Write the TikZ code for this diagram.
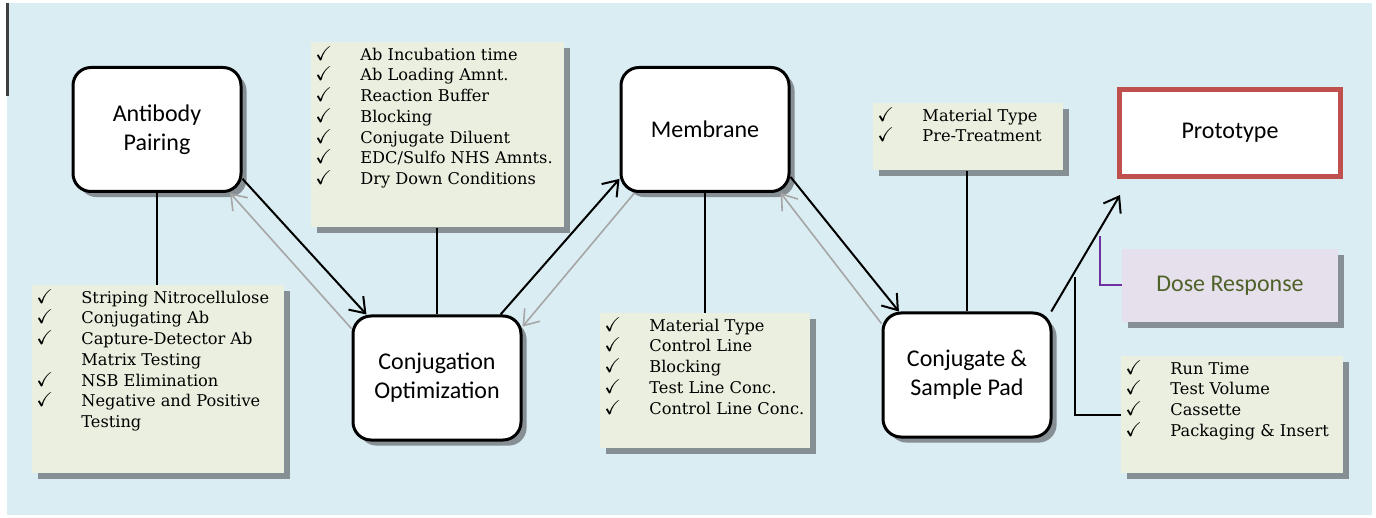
\documentclass[tikz,border=0pt]{standalone}
\usepackage{amssymb}
\usepackage{fontspec}
\usepackage{tikz}
\usetikzlibrary{arrows.meta,shadows}
\newfontfamily\boxfont{Carlito}
\newfontfamily\listfamily{DejaVu Serif}
\definecolor{bgblue}{RGB}{218,237,243}
\definecolor{listgreen}{RGB}{235,239,223}
\definecolor{shadowgray}{RGB}{134,143,148}
\definecolor{arrowgray}{RGB}{166,166,166}
\definecolor{protored}{RGB}{192,80,77}
\definecolor{doselilac}{RGB}{229,224,236}
\definecolor{doseolive}{RGB}{79,98,40}
\definecolor{linkpurple}{RGB}{112,48,160}
\newcommand{\tick}{\makebox[22.5pt][l]{\fontsize{10pt}{10.35pt}\selectfont$\checkmark$}}
\newcommand{\cont}{\hspace*{22.5pt}}
\newcommand{\checklist}[3]{\parbox[t][#2][t]{#1}{#3}}

\begin{document}
\begin{tikzpicture}[x=0.5pt,y=-0.5pt,
  stage/.style={draw,line width=1.5pt,rounded corners=9pt,fill=white,minimum width=84pt,minimum height=62pt,align=center,font=\boxfont\fontsize{12pt}{14.5pt}\selectfont,drop shadow={shadow xshift=2.8pt,shadow yshift=-2.8pt,fill=shadowgray,opacity=1}},
  checklist/.style={fill=listgreen,inner xsep=2pt,inner ysep=2pt,anchor=north west,font=\listfamily\fontsize{8.1pt}{10.35pt}\selectfont,drop shadow={shadow xshift=2.8pt,shadow yshift=-2.8pt,fill=shadowgray,opacity=1}},
  proto/.style={draw=protored,line width=2.5pt,fill=white,minimum width=110.5pt,minimum height=43.5pt,font=\boxfont\fontsize{12pt}{14.5pt}\selectfont},
  dose/.style={fill=doselilac,text=doseolive,minimum width=108pt,minimum height=36.5pt,font=\boxfont\fontsize{12pt}{14.5pt}\selectfont,drop shadow={shadow xshift=2.8pt,shadow yshift=-2.8pt,fill=shadowgray,opacity=1}},
  link/.style={line width=1pt,-{Straight Barb[length=7pt,width=10pt]}},
  back/.style={draw=arrowgray,line width=0.8pt,-{Straight Barb[length=7pt,width=10pt]}},
  stem/.style={line width=1pt}]
\useasboundingbox (0,0) rectangle (1376,518);
\fill[white] (0,0) rectangle (1376,518);
\fill[bgblue] (7,3) rectangle (1372,515);
\fill[black!75] (6,3) rectangle (9,96);

\node[stage] (ab) at (157,129.5) {Antibody\\Pairing};
\node[stage] (conj) at (437,378) {Conjugation\\Optimization};
\node[stage] (mem) at (705,129.5) {Membrane};
\node[stage] (pad) at (967,375) {Conjugate \&\\Sample Pad};
\node[proto] (proto) at (1230,133) {Prototype};
\node[dose] (dose) at (1230,285.5) {Dose Response};

\node[checklist] (lista) at (32,285) {\checklist{122pt}{90pt}{\tick Striping Nitrocellulose\\ \tick Conjugating Ab\\ \tick Capture-Detector Ab\\ \cont Matrix Testing\\ \tick NSB Elimination\\ \tick Negative and Positive\\ \cont Testing}};
\node[checklist] (listb) at (311,42) {\checklist{122.5pt}{88.5pt}{\tick Ab Incubation time\\ \tick Ab Loading Amnt.\\ \tick Reaction Buffer\\ \tick Blocking\\ \tick Conjugate Diluent\\ \tick EDC/Sulfo NHS Amnts.\\ \tick Dry Down Conditions}};
\node[checklist] (listc) at (600,313) {\checklist{101pt}{63.5pt}{\tick Material Type\\ \tick Control Line\\ \tick Blocking\\ \tick Test Line Conc.\\ \tick Control Line Conc.}};
\node[checklist] (listd) at (873,103) {\checklist{91pt}{29.5pt}{\tick Material Type\\ \tick Pre-Treatment}};
\node[checklist] (liste) at (1121,356) {\checklist{107pt}{54.5pt}{\tick Run Time\\ \tick Test Volume\\ \tick Cassette\\ \tick Packaging \& Insert}};

\coordinate (protoin) at ([xshift=1.5pt,yshift=-8pt]proto.south west);
\coordinate (etop) at (1075,277);
\coordinate (dtop) at (1100,236);

\draw[link] (ab.-30) -- (conj.138);
\draw[back] (conj.150) -- (ab.-41);
\draw[link] (conj.45) -- (mem.-150);
\draw[back] (mem.-138) -- (conj.31);
\draw[link] (mem.-29) -- (pad.137);
\draw[back] (pad.149) -- (mem.-40);
\draw[link] (pad.37) -- (protoin);

\draw[stem] (ab.south) -- (ab.south |- lista.north);
\draw[stem] (conj.north) -- (conj.north |- listb.south);
\draw[stem] (mem.south) -- (mem.south |- listc.north);
\draw[stem] (pad.north) -- (pad.north |- listd.south);
\draw[stem] (etop) |- (liste.west);
\draw[stem,linkpurple] (dtop) |- (dose.west);
\end{tikzpicture}
\end{document}
